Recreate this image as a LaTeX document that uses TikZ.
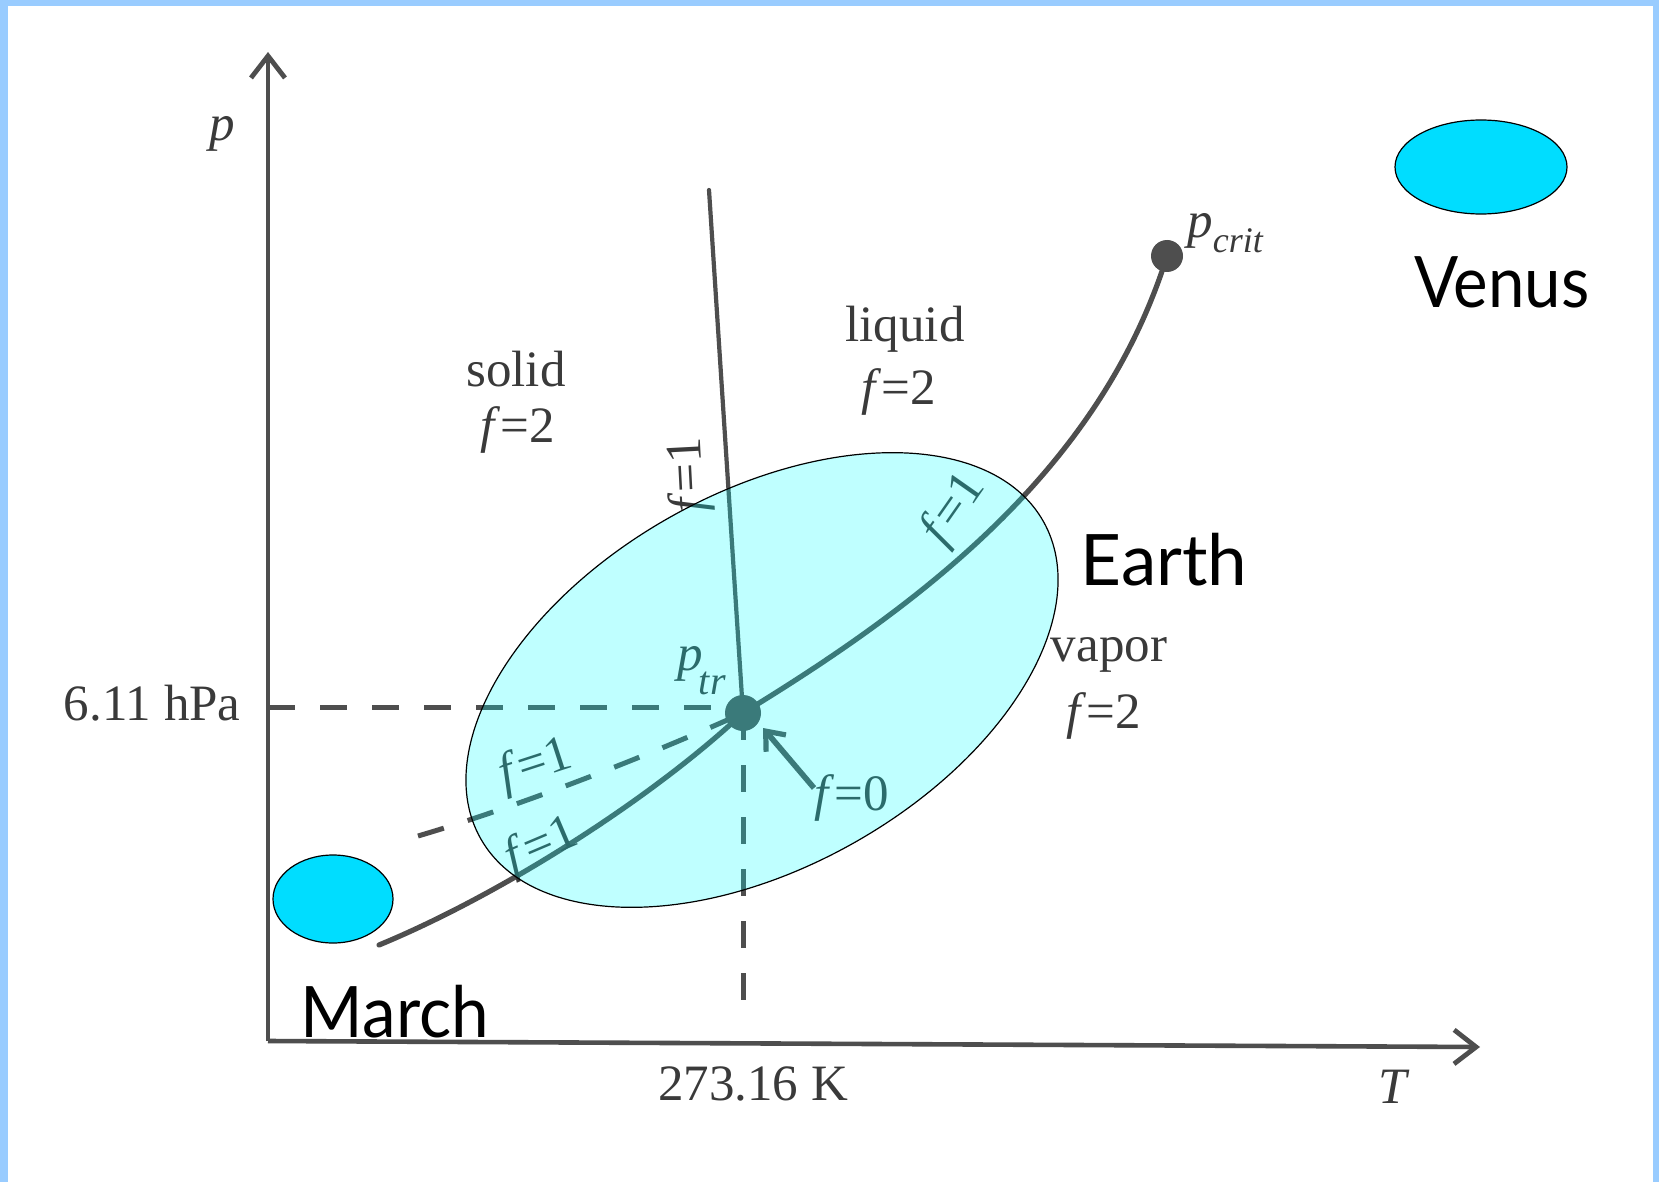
\documentclass[tikz,border=0pt]{standalone}
\usepackage{fontspec}
\setmainfont{Liberation Serif}
\newfontfamily\handfont{Lato}
\usetikzlibrary{arrows.meta,shapes.geometric}
\definecolor{ink}{RGB}{78,78,78}
\definecolor{txt}{RGB}{58,58,58}
\definecolor{framecol}{RGB}{153,204,255}
\definecolor{planet}{RGB}{0,221,255}
\definecolor{tint}{RGB}{0,255,255}
\begin{document}
\begin{tikzpicture}[x=0.5pt,y=-0.5pt,
  lbl/.style={text=txt,font=\fontsize{25.5}{30}\selectfont,inner sep=0pt},
  hand/.style={text=black,font=\handfont\fontsize{35.5}{40}\selectfont,inner sep=0pt},
  axisln/.style={draw=ink,line width=2.3pt,-{Straight Barb[length=11pt,width=17pt,line width=2.4pt]}},
  curveln/.style={draw=ink,line width=2.6pt,line cap=round},
  meltln/.style={draw=ink,line width=2.1pt,line cap=round},
  dashln/.style={draw=ink,line width=2.5pt,dash pattern=on 13.5pt off 12.5pt},
  fzero/.style={draw=ink,line width=2.8pt,-{Straight Barb[length=8pt,width=13pt,line width=2.6pt]}},
  dotnode/.style={circle,fill=ink,inner sep=0pt},
  planetnode/.style={ellipse,draw=black,line width=0.6pt,fill=planet,inner sep=0pt}
]
\useasboundingbox (0,0) rectangle (1659,1182);
\fill[white] (0,0) rectangle (1659,1182);
\fill[framecol] (0,0) rectangle (8,1182);
\fill[framecol] (0,0) rectangle (1659,6);
\fill[framecol] (1653,0) rectangle (1659,1182);

% key points
\coordinate (O) at (268,1041);
\coordinate (ytop) at (268,52);
\coordinate (xend) at (1480,1047);
\coordinate (mtop) at (709,190);
\coordinate (sstart) at (379,945);
\coordinate (mstart) at (418,836);
\coordinate (hstart) at (268,707);
\coordinate (hend) at (728,707);
\coordinate (vend) at (743,1021);
\coordinate (tpc) at (743,713);
\coordinate (pcc) at (1167,256);

% axes
\draw[axisln] (O) -- (ytop);
\draw[axisln] (O) -- (xend);

% dashed guides
\draw[dashln] (hstart) -- (hend);
\draw[dashln] (tpc) -- (vend);
\draw[dashln] (mstart) .. controls (520,806) and (650,755) .. (tpc);

% phase boundaries
\draw[curveln] (sstart) .. controls (500,895) and (650,800) .. (tpc);
\draw[curveln] (tpc) .. controls (920,605) and (1100,470) .. (pcc);
\draw[meltln] (mtop) -- (tpc);

% points
\node[dotnode,minimum size=18pt] (tp) at (tpc) {};
\node[dotnode,minimum size=16pt] (pc) at (pcc) {};

% f=0 arrow
\coordinate (ftail) at (814,788);
\coordinate (ftip) at (763,728);
\draw[fzero] (ftail) -- (ftip);

% labels
\node[lbl,anchor=base] (pl) at (222,141) {\textit{p}};
\node[lbl,anchor=base] (Tl) at (1394,1103) {\textit{T}};
\node[lbl,anchor=base east] (hpa) at (241,720) {6.11 hPa};
\node[lbl,anchor=base] (tk) at (753,1100) {273.16 K};
\node[lbl,anchor=base] (solid) at (516,386) {solid};
\node[lbl,anchor=base] (fsolid) at (518,442) {\textit{f}=2};
\node[lbl,anchor=base] (liquid) at (905,341) {liquid};
\node[lbl,anchor=base] (fliquid) at (899,404) {\textit{f}=2};
\node[lbl,anchor=base] (vapor) at (1109,661) {vapor};
\node[lbl,anchor=base] (fvapor) at (1104,728) {\textit{f}=2};
\node[lbl,anchor=base west] (ptr) at (677,670) {\textit{p}\kern-2pt\raisebox{-12pt}{\fontsize{20}{20}\selectfont\textit{tr}}};
\node[lbl,anchor=base west] (pcrit) at (1187,238) {\textit{p}\raisebox{-7.5pt}{\fontsize{18}{18}\selectfont\textit{crit}}};
\node[lbl] (f0) at (852,798) {\textit{f}=0};
\node[lbl,rotate=93] (fmelt) at (690,475) {\textit{f}=1};
\node[lbl,rotate=55] (fvap) at (955,510) {\textit{f}=1};
\node[lbl,rotate=18] (fmeta) at (536,766) {\textit{f}=1};
\node[lbl,rotate=23] (fsub) at (542,847) {\textit{f}=1};

% Earth region
\node[ellipse,draw=black,line width=0.6pt,fill=tint,fill opacity=0.25,draw opacity=1,
      minimum width=323pt,minimum height=187pt,inner sep=0pt,rotate=29.4] (earthzone) at (762,680) {};

% planets
\node[planetnode,minimum width=86pt,minimum height=47pt] (venusdot) at (1481,167) {};
\node[planetnode,minimum width=60pt,minimum height=44pt] (marchdot) at (333,899) {};
\node[hand,anchor=base] (earth) at (1164,585) {Earth};
\node[hand,anchor=base,xscale=0.92] (venus) at (1502,307) {Venus};
\node[hand,anchor=base,xscale=0.95] (march) at (395,1037) {March};
\end{tikzpicture}
\end{document}
